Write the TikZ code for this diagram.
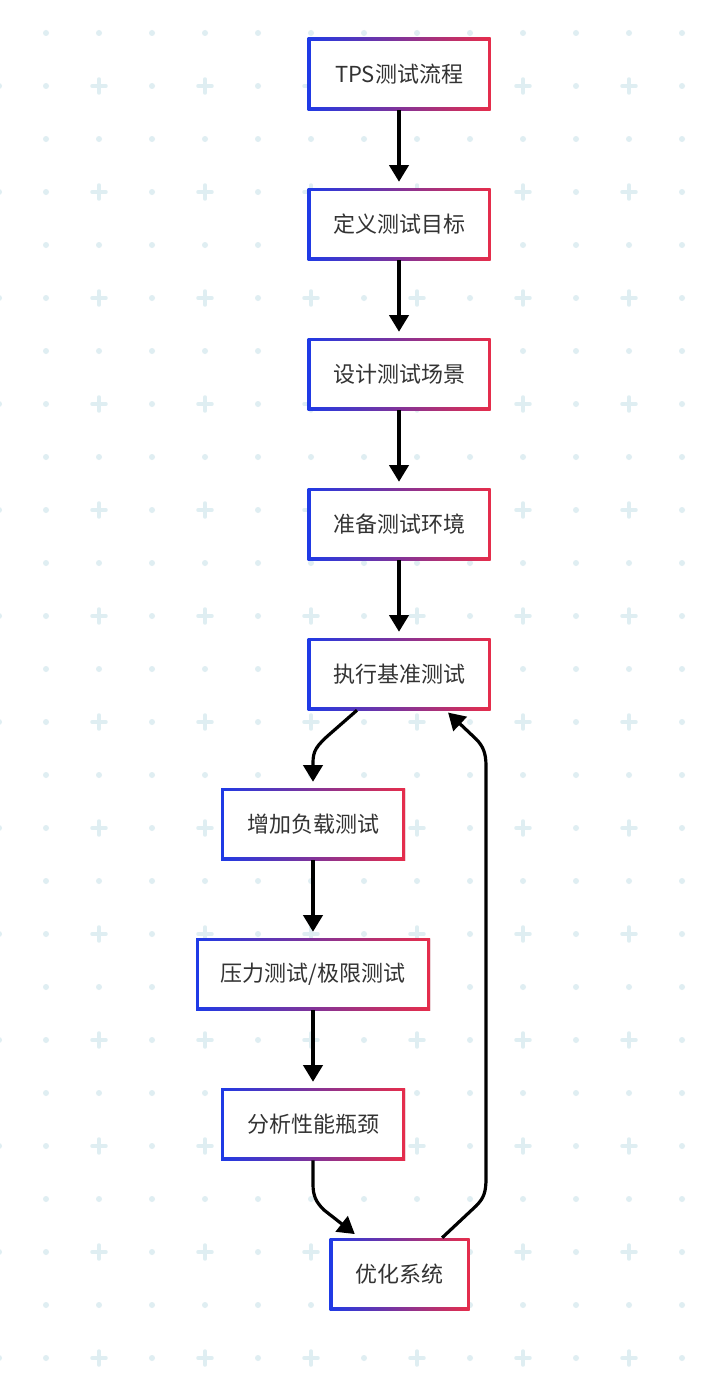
\documentclass[tikz,border=0pt]{standalone}
\usepackage{fontspec}
\newfontfamily\cjkfont{Noto Sans CJK SC}
\usetikzlibrary{arrows.meta,shadows,calc}
\definecolor{bgdot}{HTML}{DFEEF2}
\definecolor{gblue}{HTML}{1E3AE6}
\definecolor{gred}{HTML}{E62D4B}
\definecolor{txt}{HTML}{333333}
\begin{document}
\begin{tikzpicture}[x=0.75pt,y=-0.75pt,
  flowbox/.style={rectangle, minimum height=54pt, inner sep=0pt,
    left color=gblue, right color=gred,
    font=\cjkfont\fontsize{16.5}{19.5}\selectfont, text=txt,
    drop shadow={shadow xshift=0.6pt, shadow yshift=-0.9pt, opacity=0.12},
    path picture={\fill[white] ([shift={(2.25pt,2.25pt)}]path picture bounding box.south west) rectangle ([shift={(-2.25pt,-2.25pt)}]path picture bounding box.north east);}},
  arr/.style={line width=2.4pt, black, line join=round, -{Triangle[length=12.5pt,width=14.5pt]}},
  bgplus/.style={draw=bgdot, line width=2.6pt, line cap=round},
]
\useasboundingbox (0,0) rectangle (716,1388);
\fill[white] (0,0) rectangle (716,1388);
% background pattern
\foreach \i in {0,...,12}{
  \foreach \j in {0,...,25}{
    \pgfmathsetmacro\xx{46+53*\i}
    \pgfmathsetmacro\yy{33+53*\j}
    \ifodd\i
      \ifodd\j
        \draw[bgplus] (\xx-7,\yy) -- (\xx+7,\yy) (\xx,\yy-7) -- (\xx,\yy+7);
      \else
        \fill[bgdot] (\xx,\yy) circle (2.25pt);
      \fi
    \else
      \fill[bgdot] (\xx,\yy) circle (2.25pt);
    \fi
  }
}
\foreach \j in {1,3,...,25}{
  \pgfmathsetmacro\yy{33+53*\j}
  \fill[bgdot] (-1,\yy) circle (2.25pt);
}
% nodes
\node[flowbox, minimum width=137.25pt] (n1) at (399,74) {TPS测试流程};
\node[flowbox, minimum width=137.25pt] (n2) at (399,224) {定义测试目标};
\node[flowbox, minimum width=137.25pt] (n3) at (399,374) {设计测试场景};
\node[flowbox, minimum width=137.25pt] (n4) at (399,524) {准备测试环境};
\node[flowbox, minimum width=137.25pt] (n5) at (399,674) {执行基准测试};
\node[flowbox, minimum width=138pt] (n6) at (313,824) {增加负载测试};
\node[flowbox, minimum width=175.5pt] (n7) at (313,974) {压力测试/极限测试};
\node[flowbox, minimum width=138pt] (n8) at (313,1124) {分析性能瓶颈};
\node[flowbox, minimum width=105pt] (n9) at (399.5,1274) {优化系统};
% connectors
\draw[arr, shorten >=4.5pt] (n1) -- (n2);
\draw[arr, shorten >=4.5pt] (n2) -- (n3);
\draw[arr, shorten >=4.5pt] (n3) -- (n4);
\draw[arr, shorten >=4.5pt] (n4) -- (n5);
\draw[arr, shorten >=4.5pt] (n6) -- (n7);
\draw[arr, shorten >=4.5pt] (n7) -- (n8);
\draw[arr, shorten >=4.5pt] ([xshift=-31.5pt]n5.south) -- (331,733)
   .. controls (316,746) and (313,751) .. (313,763) -- (n6.north);
\draw[arr, shorten >=4.5pt] (n8.south) -- (313,1184)
   .. controls (313,1196) and (316,1202) .. (324,1210) -- ([xshift=-30pt]n9.north);
\draw[arr, shorten >=2.5pt] ([xshift=32pt]n9.north) -- (476,1206)
   .. controls (484,1198) and (486,1192) .. (486,1178) -- (486,766)
   .. controls (486,753) and (483,746) .. (476,739) -- ([xshift=35pt]n5.south);
\end{tikzpicture}
\end{document}
